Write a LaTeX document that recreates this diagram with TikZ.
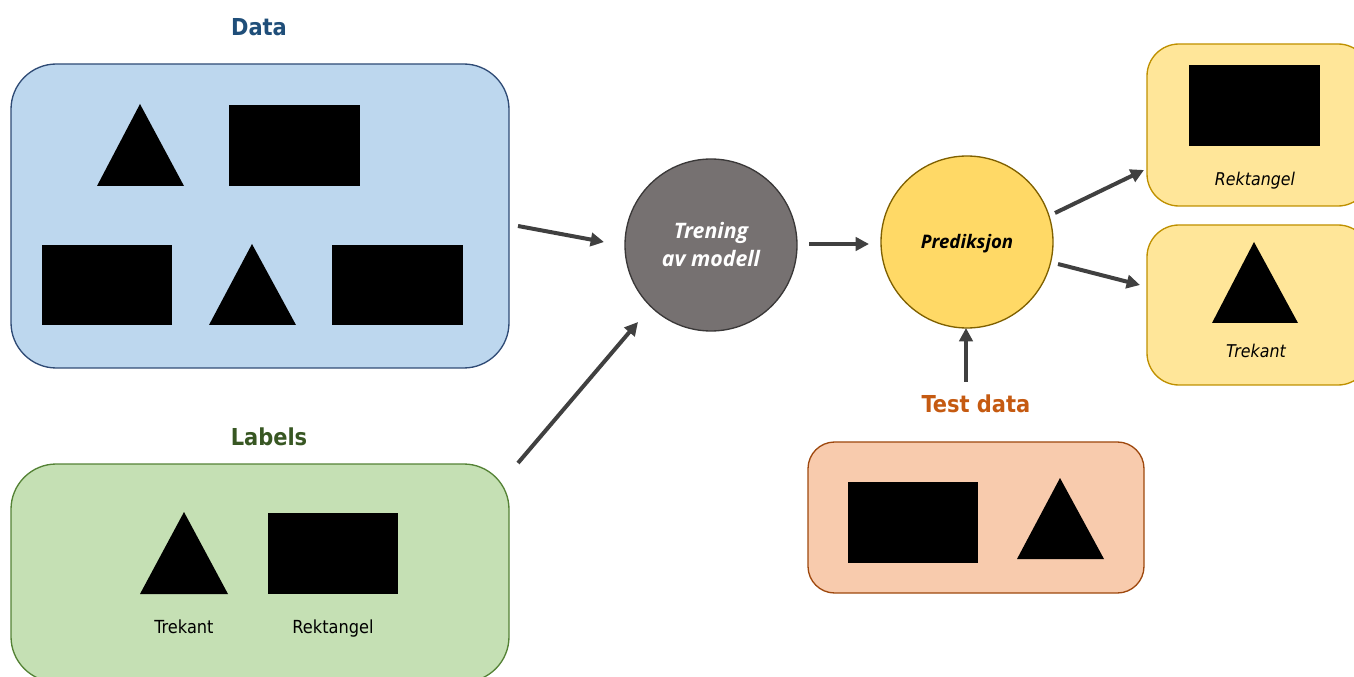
\documentclass[tikz,border=0pt]{standalone}
\usepackage{fontspec}
\setmainfont{DejaVu Sans Condensed}
\newfontfamily\circfont{Open Sans}
\usetikzlibrary{arrows.meta}

\definecolor{dataFill}{HTML}{BDD7EE}
\definecolor{dataLine}{HTML}{2F4B75}
\definecolor{dataText}{HTML}{1F4E79}
\definecolor{labFill}{HTML}{C5E0B4}
\definecolor{labLine}{HTML}{548235}
\definecolor{labText}{HTML}{385723}
\definecolor{testFill}{HTML}{F8CBAD}
\definecolor{testLine}{HTML}{9E480E}
\definecolor{testText}{HTML}{C55A11}
\definecolor{outFill}{HTML}{FFE699}
\definecolor{outLine}{HTML}{BF9000}
\definecolor{predFill}{HTML}{FFD966}
\definecolor{predLine}{HTML}{7F6000}
\definecolor{trainFill}{HTML}{767171}
\definecolor{trainLine}{HTML}{3A3838}
\definecolor{arrowCol}{HTML}{404040}

\tikzset{
  panel/.style={draw=#1, line width=1pt, rounded corners=34pt},
  title/.style={font=\bfseries\fontsize{17.5}{20}\selectfont},
  caption/.style={font=\fontsize{13.5}{16}\selectfont},
  outcaption/.style={font=\itshape\fontsize{13.2}{16}\selectfont},
  blk/.style={fill=black},
  disc/.style={circle, draw=#1, line width=1pt, minimum size=172*0.75pt, inner sep=0pt},
  flow/.style={draw=arrowCol, line width=3pt,
    -{Triangle[length=10pt,width=10pt]}},
}

\begin{document}
\begin{tikzpicture}[x=0.75pt,y=-0.75pt]
\useasboundingbox (0,0) rectangle (1354,677);
\clip (0,0) rectangle (1354,677);

% ---- Data panel ----
\node[title, text=dataText] (dataT) at (259,27) {Data};
\draw[panel=dataLine, fill=dataFill] (11,64) rectangle (509,368);
\fill[blk] (140,104) -- (184,186) -- (97,186) -- cycle;
\fill[blk] (229,105) rectangle (360,186);
\fill[blk] (42,245) rectangle (172,325);
\fill[blk] (252,244) -- (296,325) -- (209,325) -- cycle;
\fill[blk] (332,245) rectangle (463,325);

% ---- Labels panel ----
\node[title, text=labText] (labT) at (269,437) {Labels};
\draw[panel=labLine, fill=labFill] (11,464) rectangle (509,682);
\fill[blk] (184,512) -- (228,594) -- (140,594) -- cycle;
\fill[blk] (268,513) rectangle (398,594);
\node[caption] (labTri) at (184,627) {Trekant};
\node[caption] (labRect) at (333,629) {Rektangel};

% ---- Training model ----
\node[disc=trainLine, fill=trainFill, text=white,
      font=\circfont\bfseries\itshape\fontsize{16}{21}\selectfont,
      align=center] (train) at (711,245) {Trening\\av modell};

% ---- Prediction ----
\node[disc=predLine, fill=predFill] (pred) at (967,242) {};
\node[font=\circfont\bfseries\itshape\fontsize{14}{16}\selectfont] (predT) at (967,244) {Prediksjon};

% ---- Test data panel ----
\node[title, text=testText] (testT) at (976,404) {Test data};
\draw[panel=testLine, fill=testFill, rounded corners=20pt] (808,442) rectangle (1144,593);
\fill[blk] (848,482) rectangle (978,563);
\fill[blk] (1060,478) -- (1104,559) -- (1017,559) -- cycle;

% ---- Output panels ----
\draw[panel=outLine, fill=outFill, rounded corners=24pt] (1147,44) rectangle (1370,206);
\fill[blk] (1189,65) rectangle (1320,146);
\node[outcaption] (outRect) at (1255,181) {Rektangel};

\draw[panel=outLine, fill=outFill, rounded corners=24pt] (1147,225) rectangle (1370,385);
\fill[blk] (1254,242) -- (1298,323) -- (1212,323) -- cycle;
\node[outcaption] (outTri) at (1256,351) {Trekant};

% ---- Connectors ----
\coordinate (a1s) at (518,226); \coordinate (a1e) at (604,242);
\coordinate (a2s) at (518,463); \coordinate (a2e) at (638,322);
\coordinate (a3s) at (809,244); \coordinate (a3e) at (869,244);
\coordinate (a4s) at (1055,213); \coordinate (a4e) at (1144,170);
\coordinate (a5s) at (1058,264); \coordinate (a5e) at (1140,285);
\coordinate (a6s) at (966,382); \coordinate (a6e) at (966,328);
\draw[flow] (a1s) -- (a1e);
\draw[flow] (a2s) -- (a2e);
\draw[flow] (a3s) -- (a3e);
\draw[flow] (a4s) -- (a4e);
\draw[flow] (a5s) -- (a5e);
\draw[flow] (a6s) -- (a6e);
\end{tikzpicture}
\end{document}
